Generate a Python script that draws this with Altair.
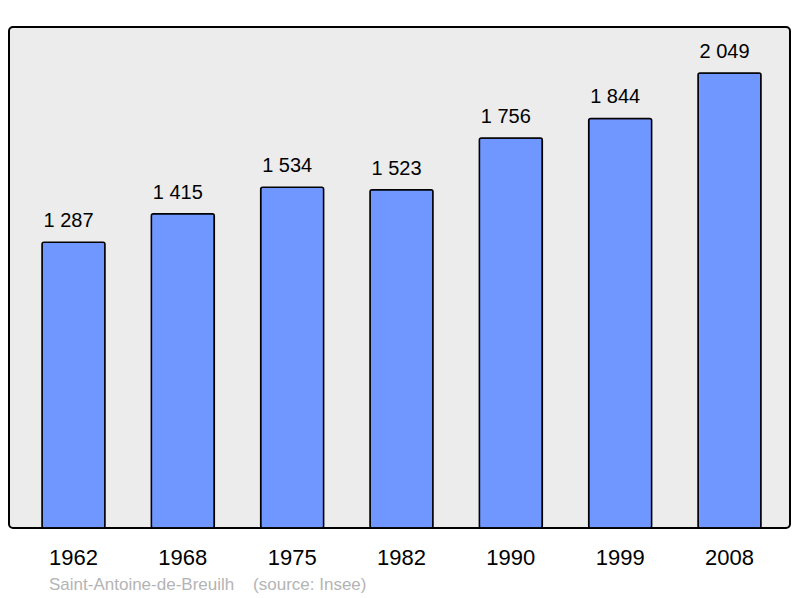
import altair as alt
import pandas as pd

years = ["1962", "1968", "1975", "1982", "1990", "1999", "2008"]
population = [1287, 1415, 1534, 1523, 1756, 1844, 2049]

df = pd.DataFrame({
    "year": years,
    "pop": population,
    "label": [f"{v:,}".replace(",", " ") for v in population],
})

x = alt.X("year:N", sort=years,
          scale=alt.Scale(range=[33, 752], paddingInner=0.424, paddingOuter=0),
          axis=alt.Axis(title=None, domain=False, ticks=False, labelAngle=0,
                        labelFontSize=22, labelFont="Liberation Sans",
                        labelColor="black", labelBaseline="alphabetic",
                        labelPadding=36))
y = alt.Y("pop:Q", scale=alt.Scale(domain=[0, 2256], nice=False, zero=True),
          axis=None)

bars = alt.Chart(df).mark_bar(
    color="#7096ff", stroke="black", strokeWidth=1.5, cornerRadius=2
).encode(x=x, y=y)

labels = alt.Chart(df).mark_text(
    baseline="alphabetic", dy=-15, dx=-5, fontSize=20, font="Liberation Sans", color="black"
).encode(x=x, y=y, text="label:N")

chart = alt.layer(bars, labels).properties(
    width=781, height=501,
    autosize=alt.AutoSizeParams(type="none"),
    padding={"left": 1, "top": 19, "right": 2, "bottom": 68},
    title=alt.TitleParams(
        text="Saint-Antoine-de-Breuilh\u00a0\u00a0\u00a0\u00a0(source: Insee)",
        orient="bottom", anchor="start", dx=40, offset=9,
        fontSize=17, font="Liberation Sans", fontWeight="normal", color="#b4b4b4",
    ),
).configure_view(
    stroke="black", strokeWidth=2, fill="#ececec", cornerRadius=4
)

chart.save("out.html", embed_options={"renderer": "svg", "actions": False})
